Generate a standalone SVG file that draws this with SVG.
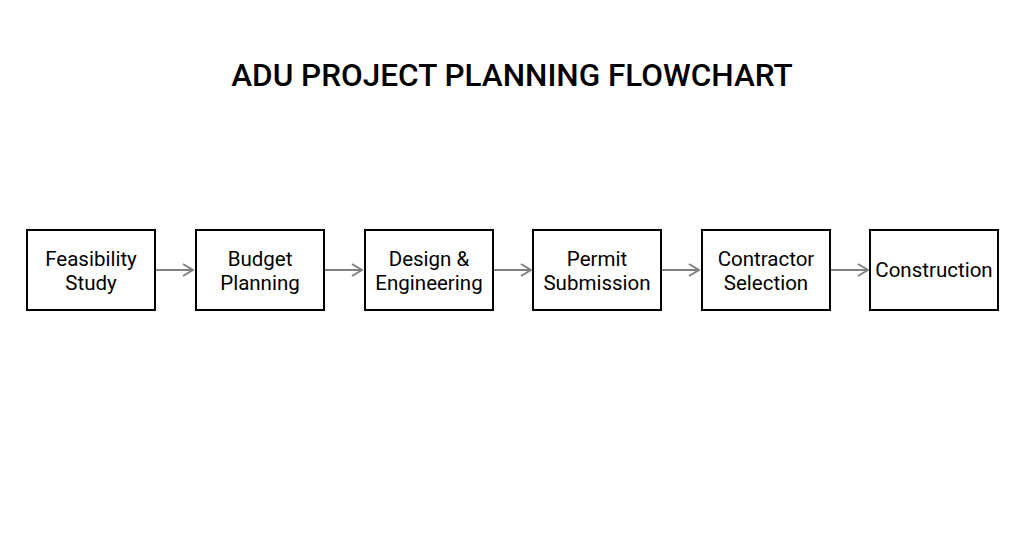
<svg xmlns="http://www.w3.org/2000/svg" width="1024" height="541" viewBox="0 0 1024 541">
<style>
.box{fill:#fff;stroke:#000;stroke-width:2}
.lbl{font-family:Roboto,"Liberation Sans",sans-serif;font-size:20.5px;fill:#000;text-anchor:middle}
.title{font-family:Roboto,"Liberation Sans",sans-serif;font-size:31.5px;font-weight:500;fill:#000;text-anchor:middle}
.conn{stroke:#808080;stroke-width:2;fill:none}
</style>
<defs>
<marker id="arr" viewBox="0 0 12 14" refX="11" refY="7" markerWidth="12" markerHeight="14" markerUnits="userSpaceOnUse" orient="auto">
<path d="M1,1 L11,7 L1,13" fill="none" stroke="#808080" stroke-width="2"/>
</marker>
</defs>
<rect width="1024" height="541" fill="#fff"/>
<text class="title" x="512" y="86">ADU PROJECT PLANNING FLOWCHART</text>
<g id="connectors">
<line class="conn" x1="156" y1="270" x2="193" y2="270" marker-end="url(#arr)"/>
<line class="conn" x1="325" y1="270" x2="362" y2="270" marker-end="url(#arr)"/>
<line class="conn" x1="494" y1="270" x2="531" y2="270" marker-end="url(#arr)"/>
<line class="conn" x1="662" y1="270" x2="699" y2="270" marker-end="url(#arr)"/>
<line class="conn" x1="831" y1="270" x2="868" y2="270" marker-end="url(#arr)"/>
</g>
<g id="n1"><rect class="box" x="27" y="230" width="128" height="80"/><text class="lbl" x="91" y="266">Feasibility</text><text class="lbl" x="91" y="290">Study</text></g>
<g id="n2"><rect class="box" x="196" y="230" width="128" height="80"/><text class="lbl" x="260" y="266">Budget</text><text class="lbl" x="260" y="290">Planning</text></g>
<g id="n3"><rect class="box" x="365" y="230" width="128" height="80"/><text class="lbl" x="429" y="266">Design &amp;</text><text class="lbl" x="429" y="290">Engineering</text></g>
<g id="n4"><rect class="box" x="533" y="230" width="128" height="80"/><text class="lbl" x="597" y="266">Permit</text><text class="lbl" x="597" y="290">Submission</text></g>
<g id="n5"><rect class="box" x="702" y="230" width="128" height="80"/><text class="lbl" x="766" y="266">Contractor</text><text class="lbl" x="766" y="290">Selection</text></g>
<g id="n6"><rect class="box" x="870" y="230" width="128" height="80"/><text class="lbl" x="934" y="277">Construction</text></g>
</svg>
